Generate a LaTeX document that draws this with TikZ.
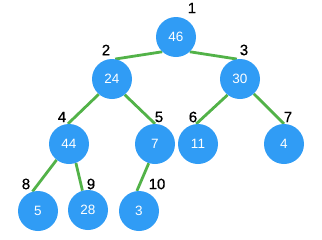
\documentclass[tikz,border=0pt]{standalone}
\usepackage{fontspec}
\setmainfont{Liberation Sans}
\newfontfamily\idxfont[FakeBold=0.6]{Liberation Sans}
\definecolor{nodeblue}{RGB}{48,156,245}
\definecolor{edgegreen}{RGB}{82,178,72}
\pgfdeclarelayer{bg}
\pgfsetlayers{bg,main}
\begin{document}
\begin{tikzpicture}[x=1pt,y=-1pt,
  heapnode/.style={circle,fill=nodeblue,draw=none,minimum size=40pt,inner sep=0pt,text=white,font=\fontsize{13.5}{13.5}\selectfont},
  idx/.style={text=black,inner sep=0pt,font=\idxfont\fontsize{15}{15}\selectfont},
  edge/.style={draw=edgegreen,line width=2.8pt}]
\useasboundingbox (0,0) rectangle (322,239);
% nodes
\node[heapnode] (n1) at (176,37) {46};
\node[heapnode] (n2) at (112,79) {24};
\node[heapnode] (n3) at (240,79) {30};
\node[heapnode] (n4) at (69,144) {44};
\node[heapnode] (n5) at (155,144) {7};
\node[heapnode] (n6) at (198,144) {11};
\node[heapnode] (n7) at (284,144) {4};
\node[heapnode] (n8) at (38,211) {5};
\node[heapnode] (n9) at (88,210) {28};
\node[heapnode] (n10) at (139,211) {3};
% edges behind nodes
\begin{pgfonlayer}{bg}
\draw[edge] (n1.227) -- (n2.81);
\draw[edge] (n1.313) -- (n3.99);
\draw[edge] (n2.229) -- (n4.93);
\draw[edge] (n2.309) -- (n5.90);
\draw[edge] (n3.232) -- (n6.95);
\draw[edge] (n3.313) -- (n7.90);
\draw[edge] (n4.232) -- (n8.106);
\draw[edge] (n4.290) -- (n9.106);
\draw[edge] (n5.252) -- (n10.96);
\end{pgfonlayer}
% index labels
\node[idx] (l1) at (192,8) {1};
\node[idx] (l2) at (106,50) {2};
\node[idx] (l3) at (244,50) {3};
\node[idx] (l4) at (62,117) {4};
\node[idx] (l5) at (159,117) {5};
\node[idx] (l6) at (193,117) {6};
\node[idx] (l7) at (288,117) {7};
\node[idx] (l8) at (26,184) {8};
\node[idx] (l9) at (91,184) {9};
\node[idx] (l10) at (157,184) {10};
\end{tikzpicture}
\end{document}
